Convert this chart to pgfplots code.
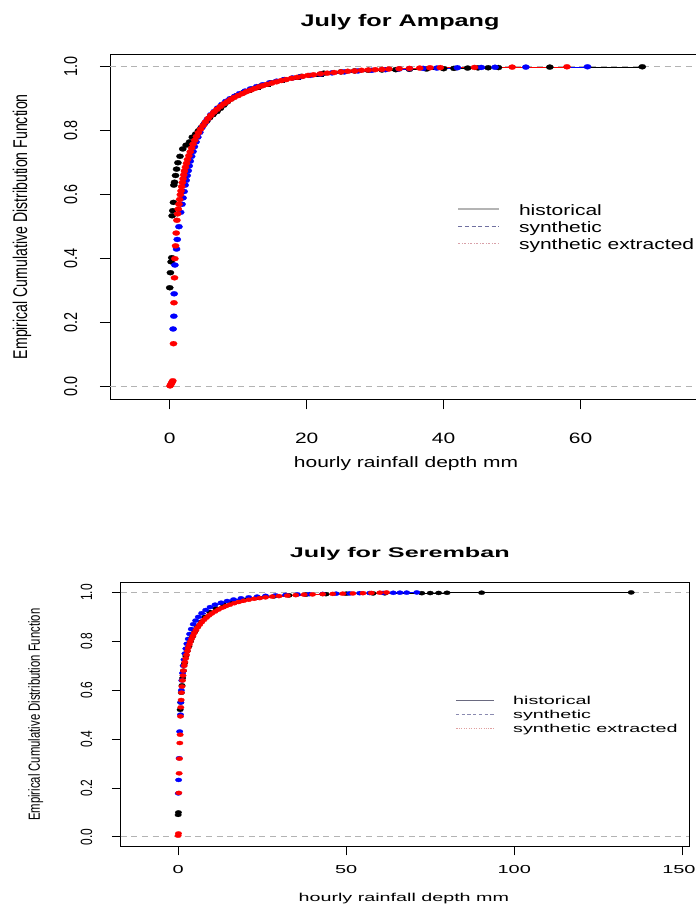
\documentclass[border=0pt]{standalone}
\usepackage{pgfplots}
\pgfplotsset{compat=1.18}
\usepackage{fontspec}
\setmainfont{Liberation Sans}
\newfontfamily\sA{Liberation Sans}[FakeStretch=1.4]
\newfontfamily\sAt{Liberation Sans}[FakeStretch=1.5]
\newfontfamily\sB{Liberation Sans}[FakeStretch=1.72]
\newfontfamily\sBt{Liberation Sans}[FakeStretch=1.8]
\newfontfamily\rA{Liberation Sans}[FakeStretch=0.71]
\newfontfamily\rAt{Liberation Sans}[FakeStretch=0.77]
\newfontfamily\rB{Liberation Sans}[FakeStretch=0.70]
\newfontfamily\rBt{Liberation Sans}[FakeStretch=0.735]
\definecolor{histA}{HTML}{B4B4B4}
\definecolor{synA}{HTML}{7070A0}
\definecolor{extA}{HTML}{D8A0A8}
\definecolor{histB}{HTML}{6A6A80}
\definecolor{synB}{HTML}{8A8AB0}
\definecolor{extB}{HTML}{E0A0A0}
\definecolor{rgray}{HTML}{B3B3B3}
\pgfplotsset{
  ecdfA/.style={jump mark left, mark=*, line width=0.5pt, mark size=1.9pt,
    mark options={solid, xscale=1.45, line width=0.2pt}, forget plot},
  ecdfB/.style={jump mark left, mark=*, line width=0.5pt, mark size=1.55pt,
    mark options={solid, xscale=1.6, line width=0.2pt}, forget plot},
  hline/.style={rgray, line width=0.6pt, dash pattern=on 4.5pt off 3.5pt, forget plot},
}
\begin{document}
\begin{tikzpicture}
% ================= TOP: July for Ampang =================
\begin{axis}[
  at={(82.5pt,378.5pt)}, anchor=south west,
  width=444pt, height=259pt, scale only axis,
  xmin=-8.72, xmax=77.72, ymin=-0.04, ymax=1.04,
  /pgf/number format/assume math mode=true,
  xtick={0,20,40,60}, xticklabels={0,20,40,60},
  ytick={0,0.2,0.4,0.6,0.8,1.0}, yticklabels={0.0,0.2,0.4,0.6,0.8,1.0},
  tick align=outside, xtick pos=left, ytick pos=left,
  major tick length=7.5pt,
  tick style={black, line width=0.6pt},
  axis line style={black, line width=0.6pt},
  xticklabel shift=14.3pt, yticklabel shift=13.5pt,
  xticklabel style={font=\sA\fontsize{11.25pt}{13pt}\selectfont},
  yticklabel style={font=\rAt\fontsize{14pt}{16pt}\selectfont, rotate=90, anchor=south},
  title={July for Ampang},
  title style={at={(axis description cs:0.49,1.068)}, anchor=center, font=\sAt\bfseries\fontsize{12.6pt}{14pt}\selectfont},
  xlabel={hourly rainfall depth mm},
  xlabel style={at={(axis description cs:0.5,-0.185)}, anchor=center, font=\sA\fontsize{11.25pt}{13pt}\selectfont},
  ylabel={Empirical Cumulative Distribution Function},
  ylabel style={at={(axis description cs:-0.1486,0.5)}, anchor=center, font=\rA\fontsize{14.9pt}{16pt}\selectfont},
  legend image code/.code={\draw[#1] (0pt,1.4pt) -- (30.75pt,1.4pt); \path (44.8pt,0pt);},
  legend style={at={(0.586,0.495)}, anchor=west, draw=none, fill=none, inner sep=0pt,
    row sep=2.1pt, font=\sA\fontsize{11.25pt}{13pt}\selectfont,
    nodes={inner sep=0pt, text height=8.4pt, text depth=2.4pt}},
  legend cell align=left,
]
\addplot[hline] coordinates {(-8.72,0) (77.72,0)};
\addplot[hline] coordinates {(-8.72,1) (77.72,1)};
% historical
\addplot[ecdfA, black] coordinates {
(0.0,0.309) (0.1,0.356) (0.2,0.39) (0.3,0.403) (0.35,0.534) (0.45,0.55) (0.55,0.576)
(0.6,0.63) (0.7,0.639) (0.85,0.66) (1.0,0.68) (1.2,0.70) (1.5,0.72) (1.9,0.743)
(2.4,0.755) (2.9,0.765) (3.3,0.78) (3.8,0.79) (4.2,0.80) (4.6,0.81) (5.0,0.82)
(5.4,0.83) (5.8,0.84) (6.3,0.85) (6.9,0.86) (7.4,0.87) (7.9,0.88) (8.4,0.89)
(9.0,0.90) (9.8,0.91) (10.8,0.92) (12.0,0.93) (13.3,0.94) (14.8,0.95) (16.8,0.96)
(19.2,0.97) (22.5,0.98) (25.0,0.984) (27.0,0.987) (29.0,0.989) (31.0,0.990)
(33.0,0.991) (35.0,0.992) (37.5,0.993) (40.0,0.994) (41.5,0.995) (43.5,0.996)
(45.0,0.9965) (46.5,0.997) (48.0,0.9975) (55.5,0.999) (69.0,1.0)};
% synthetic
\addplot[ecdfA, blue] coordinates {
(0.5,0.18) (0.6,0.22) (0.65,0.29) (0.75,0.38) (1.0,0.43) (1.1,0.46) (1.35,0.50)
(1.6,0.545) (1.8,0.57) (1.95,0.59) (2.1,0.61) (2.25,0.63) (2.4,0.645) (2.55,0.66)
(2.7,0.675) (2.85,0.69) (3.0,0.705) (3.2,0.72) (3.4,0.735) (3.6,0.75) (3.85,0.765)
(4.1,0.78) (4.4,0.795) (4.7,0.81) (5.1,0.823) (5.5,0.836) (6.0,0.85) (6.5,0.86)
(7.0,0.871) (7.6,0.882) (8.2,0.892) (8.8,0.90) (9.5,0.908) (10.2,0.916) (11.0,0.924)
(11.8,0.931) (12.7,0.938) (13.6,0.944) (14.6,0.950) (15.6,0.955) (16.7,0.960)
(17.9,0.965) (19.1,0.969) (20.5,0.973) (22.0,0.977) (23.7,0.981) (25.5,0.984)
(27.5,0.987) (29.5,0.989) (31.5,0.991) (33.5,0.993) (35.0,0.994) (37.0,0.995)
(39.0,0.996) (42.0,0.997) (45.5,0.998) (47.5,0.9985) (52.0,0.999) (61.0,1.0)};
% synthetic extracted
\addplot[ecdfA, red] coordinates {
(0.05,0.002) (0.15,0.006) (0.25,0.010) (0.35,0.014) (0.45,0.018) (0.55,0.134)
(0.62,0.262) (0.70,0.340) (0.75,0.400) (0.85,0.440) (0.95,0.480) (1.05,0.520)
(1.15,0.540) (1.25,0.555) (1.35,0.570) (1.45,0.585) (1.55,0.600) (1.65,0.612)
(1.75,0.625) (1.85,0.638) (1.95,0.650) (2.05,0.662) (2.15,0.674) (2.3,0.686)
(2.45,0.698) (2.6,0.710) (2.8,0.722) (3.0,0.734) (3.2,0.746) (3.4,0.758) (3.65,0.770)
(3.9,0.782) (4.2,0.794) (4.5,0.805) (4.85,0.816) (5.2,0.827) (5.6,0.838) (6.0,0.848)
(6.45,0.858) (6.9,0.867) (7.4,0.876) (7.9,0.884) (8.4,0.891) (8.9,0.898) (9.4,0.904)
(10.0,0.910) (10.6,0.916) (11.2,0.922) (11.8,0.927) (12.4,0.932) (13.0,0.937)
(13.6,0.941) (14.2,0.945) (14.9,0.949) (15.6,0.953) (16.3,0.957) (17.0,0.960)
(17.8,0.964) (18.6,0.967) (19.4,0.970) (20.2,0.973) (21.0,0.975) (22.0,0.978)
(23.0,0.980) (24.0,0.982) (25.0,0.984) (26.0,0.986) (27.0,0.987) (28.0,0.989)
(29.0,0.990) (30.0,0.991) (31.0,0.992) (32.0,0.993) (33.5,0.994) (35.0,0.995)
(36.5,0.996) (38.0,0.997) (39.5,0.9975) (44.5,0.998) (50.0,0.999) (58.0,1.0)};
\addlegendimage{histA, line width=1.6pt}
\addlegendentry{historical}
\addlegendimage{synA, line width=0.8pt, dash pattern=on 3pt off 2pt}
\addlegendentry{synthetic}
\addlegendimage{extA, line width=0.8pt, dash pattern=on 1.5pt off 1.2pt on 0.6pt off 1.2pt}
\addlegendentry{synthetic extracted}
\end{axis}
% ================= BOTTOM: July for Seremban =================
\begin{axis}[
  at={(90.5pt,43pt)}, anchor=south west,
  width=426.5pt, height=198pt, scale only axis,
  xmin=-17.1, xmax=152.1, ymin=-0.04, ymax=1.04,
  /pgf/number format/assume math mode=true,
  xtick={0,50,100,150}, xticklabels={0,50,100,{150\hspace*{5pt}}},
  ytick={0,0.2,0.4,0.6,0.8,1.0}, yticklabels={0.0,0.2,0.4,0.6,0.8,1.0},
  tick align=outside, xtick pos=left, ytick pos=left,
  major tick length=6.5pt,
  tick style={black, line width=0.6pt},
  axis line style={black, line width=0.6pt},
  xticklabel shift=3.8pt, yticklabel shift=11.3pt,
  xticklabel style={font=\sB\fontsize{8.7pt}{10pt}\selectfont},
  yticklabel style={font=\rBt\fontsize{12.2pt}{14pt}\selectfont, rotate=90, anchor=south},
  title={July for Seremban},
  title style={at={(axis description cs:0.491,1.08)}, anchor=center, font=\sBt\bfseries\fontsize{10.5pt}{12pt}\selectfont},
  xlabel={hourly rainfall depth mm},
  xlabel style={at={(axis description cs:0.498,-0.195)}, anchor=center, font=\sB\fontsize{8.6pt}{10pt}\selectfont},
  ylabel={Empirical Cumulative Distribution Function},
  ylabel style={at={(axis description cs:-0.1495,0.5)}, anchor=center, font=\rB\fontsize{12.1pt}{14pt}\selectfont},
  legend image code/.code={\draw[#1] (0pt,1.2pt) -- (28.5pt,1.2pt); \path (42.5pt,0pt);},
  legend style={at={(0.588,0.496)}, anchor=west, draw=none, fill=none, inner sep=0pt,
    row sep=2.1pt, font=\sB\fontsize{8.6pt}{10pt}\selectfont,
    nodes={inner sep=0pt, text height=6.5pt, text depth=1.9pt}},
  legend cell align=left,
]
\addplot[hline] coordinates {(-17.1,0) (152.1,0)};
\addplot[hline] coordinates {(-17.1,1) (152.1,1)};
% historical
\addplot[ecdfB, black] coordinates {
(0.0,0.09) (0.1,0.10) (0.6,0.52) (0.75,0.55) (0.95,0.59) (1.15,0.62) (1.35,0.65)
(1.6,0.68) (1.9,0.71) (2.3,0.74) (2.7,0.76) (3.2,0.78) (3.7,0.80) (4.3,0.82)
(5.0,0.84) (5.8,0.86) (6.8,0.88) (8.0,0.90) (9.4,0.92) (11.2,0.935) (13.5,0.95)
(16.0,0.96) (19.5,0.97) (24.0,0.978) (28.5,0.984) (33.0,0.988) (38.0,0.991)
(44.0,0.993) (50.0,0.995) (58.0,0.996) (61.5,0.9965) (72.5,0.997) (75.0,0.9975)
(77.5,0.998) (80.0,0.9985) (90.3,0.999) (134.8,1.0)};
% synthetic
\addplot[ecdfB, blue] coordinates {
(0.05,0.178) (0.15,0.233) (0.3,0.322) (0.45,0.431) (0.7,0.50) (0.8,0.55) (0.95,0.60)
(1.1,0.64) (1.3,0.67) (1.5,0.70) (1.75,0.725) (2.0,0.75) (2.3,0.77) (2.6,0.79)
(3.0,0.81) (3.4,0.83) (3.9,0.85) (4.5,0.87) (5.2,0.885) (6.0,0.90) (7.0,0.915)
(8.2,0.928) (9.5,0.94) (11.0,0.95) (12.8,0.958) (14.6,0.965) (16.5,0.971)
(18.7,0.976) (21.0,0.980) (23.5,0.983) (26.0,0.986) (29.0,0.988) (32.0,0.990)
(35.5,0.992) (39.0,0.993) (43.0,0.994) (47.0,0.995) (51.0,0.996) (54.0,0.997)
(57.0,0.9975) (61.0,0.998) (64.0,0.9985) (66.0,0.999) (68.0,0.9992) (71.0,1.0)};
% synthetic extracted
\addplot[ecdfB, red] coordinates {
(0.0,0.005) (0.1,0.014) (0.2,0.18) (0.3,0.26) (0.4,0.32) (0.5,0.384) (0.6,0.418)
(0.7,0.493) (0.8,0.53) (0.9,0.56) (1.0,0.59) (1.15,0.615) (1.3,0.64) (1.45,0.66)
(1.6,0.68) (1.8,0.70) (2.0,0.715) (2.25,0.73) (2.5,0.745) (2.75,0.76) (3.0,0.773)
(3.3,0.786) (3.6,0.798) (4.0,0.81) (4.4,0.822) (4.8,0.834) (5.3,0.846) (5.8,0.857)
(6.4,0.868) (7.0,0.878) (7.7,0.888) (8.4,0.897) (9.2,0.906) (10.0,0.914) (11.0,0.922)
(12.0,0.93) (13.0,0.937) (14.2,0.944) (15.4,0.95) (16.7,0.956) (18.0,0.961)
(19.5,0.966) (21.0,0.970) (22.6,0.974) (24.3,0.977) (26.0,0.980) (28.0,0.983)
(30.0,0.985) (32.5,0.987) (35.0,0.989) (37.5,0.991) (40.0,0.992) (43.0,0.993)
(46.0,0.994) (49.0,0.995) (52.0,0.996) (55.0,0.997) (57.5,0.998) (60.0,0.999) (62.0,1.0)};
\addlegendimage{histB, line width=0.9pt}
\addlegendentry{historical}
\addlegendimage{synB, line width=0.7pt, dash pattern=on 2.5pt off 1.8pt}
\addlegendentry{synthetic}
\addlegendimage{extB, line width=0.7pt, dash pattern=on 1.2pt off 1pt on 0.5pt off 1pt}
\addlegendentry{synthetic extracted}
\end{axis}
\pgfresetboundingbox
\path[use as bounding box] (0,0) rectangle (522pt,678pt);
\end{tikzpicture}
\end{document}
